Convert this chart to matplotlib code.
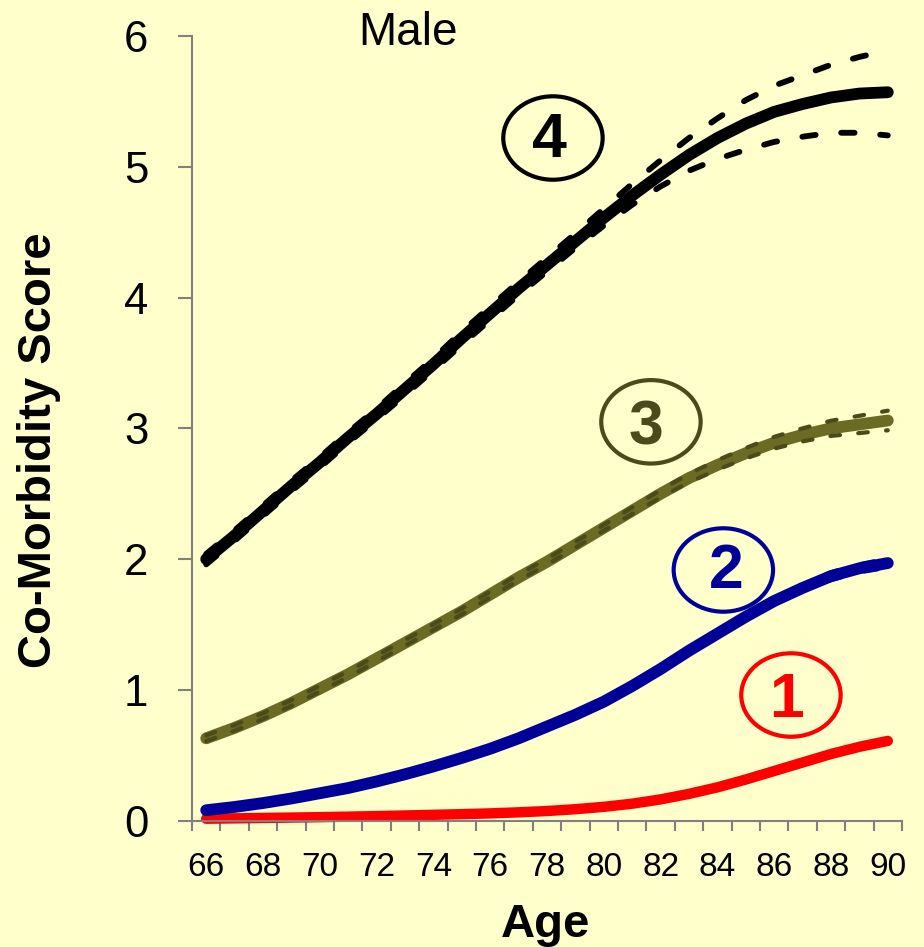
import matplotlib
matplotlib.use('Agg')
import matplotlib.pyplot as plt
from matplotlib.patches import Ellipse
from matplotlib.ticker import MultipleLocator

plt.rcParams['font.family'] = ['Liberation Sans', 'DejaVu Sans']

# ages on the category axis
ages = list(range(66, 91))

# group 4 (black) with confidence band
g4 = [2.00, 2.18, 2.37, 2.56, 2.74, 2.93, 3.11, 3.30, 3.49, 3.69, 3.88, 4.07, 4.25,
      4.43, 4.61, 4.78, 4.94, 5.09, 5.22, 5.33, 5.42, 5.48, 5.53, 5.56, 5.57]
g4_hi = [2.04, 2.22, 2.41, 2.60, 2.78, 2.97, 3.15, 3.345, 3.535, 3.74, 3.93, 4.12,
         4.305, 4.49, 4.68, 4.87, 5.05, 5.22, 5.37, 5.51, 5.62, 5.70, 5.78, 5.84, 5.89]
g4_lo = [1.96, 2.14, 2.33, 2.52, 2.70, 2.89, 3.07, 3.255, 3.445, 3.64, 3.83, 4.02,
         4.20, 4.38, 4.55, 4.71, 4.85, 4.97, 5.06, 5.13, 5.19, 5.23, 5.26, 5.26, 5.24]

# group 3 (olive)
g3 = [0.63, 0.71, 0.80, 0.90, 1.01, 1.12, 1.24, 1.36, 1.48, 1.60, 1.73, 1.86, 1.98,
      2.11, 2.24, 2.37, 2.50, 2.62, 2.72, 2.81, 2.89, 2.95, 3.00, 3.03, 3.06]
g3_hi = [0.652, 0.732, 0.822, 0.922, 1.032, 1.142, 1.262, 1.382, 1.502, 1.622, 1.752,
         1.882, 2.002, 2.132, 2.262, 2.395, 2.528, 2.652, 2.756, 2.85, 2.935, 3.00,
         3.058, 3.096, 3.135]
g3_lo = [0.608, 0.688, 0.778, 0.878, 0.988, 1.098, 1.218, 1.338, 1.458, 1.578, 1.708,
         1.838, 1.958, 2.088, 2.218, 2.345, 2.472, 2.588, 2.684, 2.77, 2.845, 2.90,
         2.942, 2.964, 2.985]

# group 2 (blue)
g2 = [0.08, 0.105, 0.135, 0.17, 0.21, 0.25, 0.30, 0.355, 0.415, 0.48, 0.55, 0.63, 0.72,
      0.81, 0.91, 1.03, 1.16, 1.30, 1.43, 1.56, 1.68, 1.78, 1.87, 1.93, 1.97]
g2_hi = [0.08, 0.105, 0.135, 0.17, 0.21, 0.25, 0.30, 0.355, 0.415, 0.48, 0.55, 0.63,
         0.72, 0.81, 0.91, 1.03, 1.16, 1.30, 1.44, 1.575, 1.70, 1.80, 1.895, 1.955, 2.00]
g2_lo = [0.08, 0.105, 0.135, 0.17, 0.21, 0.25, 0.30, 0.355, 0.415, 0.48, 0.55, 0.63,
         0.72, 0.81, 0.91, 1.03, 1.16, 1.30, 1.42, 1.545, 1.66, 1.76, 1.845, 1.905, 1.94]

# group 1 (red)
g1 = [0.015, 0.018, 0.021, 0.024, 0.027, 0.031, 0.035, 0.040, 0.045, 0.050, 0.056,
      0.064, 0.074, 0.088, 0.106, 0.130, 0.163, 0.205, 0.255, 0.315, 0.380, 0.445,
      0.510, 0.565, 0.610]

bg = '#FFFFCC'
olive = '#6B6B24'
olive_dark = '#4A4A1A'
navy = '#000099'

fig = plt.figure(figsize=(9.24, 9.47), dpi=100, facecolor=bg)
ax = fig.add_axes([192 / 924, 126.3 / 947, 710 / 924, 784.7 / 947])
ax.set_facecolor(bg)

dash = dict(linestyle=(0, (2.3, 4.4)), dash_capstyle='round', clip_on=False)
solid = dict(solid_capstyle='round', solid_joinstyle='round', clip_on=False)

ax.plot(ages, g1, color='#FF0000', lw=7.5, **solid)

ax.plot(ages, g2, color=navy, lw=8.5, **solid)
ax.plot(ages, g2_hi, color=navy, lw=4.0, **dash)
ax.plot(ages, g2_lo, color=navy, lw=4.0, **dash)

ax.plot(ages, g3, color=olive, lw=8.5, **solid)
ax.plot(ages, g3_hi, color=olive_dark, lw=3.0, **dash)
ax.plot(ages, g3_lo, color=olive_dark, lw=3.0, **dash)

ax.plot(ages, g4, color='black', lw=8.5, **solid)
ax.plot(ages, g4_hi, color='black', lw=4.2, **dash)
ax.plot(ages, g4_lo, color='black', lw=4.2, **dash)

ax.set_xlim(65.5, 90.5)
ax.set_ylim(0, 6)

# axis styling like a spreadsheet chart
for s in ['top', 'right']:
    ax.spines[s].set_visible(False)
for s in ['left', 'bottom']:
    ax.spines[s].set_color('#808080')
    ax.spines[s].set_linewidth(1.5)

ax.set_yticks(range(0, 7))
ax.tick_params(axis='y', direction='out', length=10, width=1.5, color='#808080',
               labelsize=31.5, pad=21.5)
ax.set_xticks(ages[::2])
ax.xaxis.set_minor_locator(MultipleLocator(1, offset=0.5))
ax.tick_params(axis='x', which='major', length=0, labelsize=24, pad=22.5)
ax.tick_params(axis='x', which='minor', direction='out', length=7.2, width=1.5,
               color='#808080')

# circled group numbers
labels = [
    ('4', 'black', 78.21, 5.22, 78.09, 5.073),
    ('3', olive_dark, 81.66, 3.05, 81.48, 2.873),
    ('2', navy, 84.21, 1.917, 84.30, 1.779),
    ('1', '#FF0000', 86.59, 0.961, 86.44, 0.795),
]
for txt, col, ex, ey, tx, ty in labels:
    ax.add_patch(Ellipse((ex, ey), 3.50, 0.638, fill=False, edgecolor=col, lw=3.0,
                         clip_on=False))
    ax.text(tx, ty, txt, color=col, fontsize=45, fontweight='bold',
            ha='center', va='baseline')

fig.text(407.5 / 924, (947 - 45) / 947, 'Male', fontsize=33, ha='center', va='baseline')
fig.text(546 / 924, 10 / 947, 'Age', fontsize=34, fontweight='bold', ha='center',
         va='baseline')
fig.text(17 / 924, 0.525, 'Co-Morbidity Score', fontsize=34, fontweight='bold',
         rotation=90, ha='left', va='center')

fig.savefig('out.png', dpi=100, facecolor=bg)
